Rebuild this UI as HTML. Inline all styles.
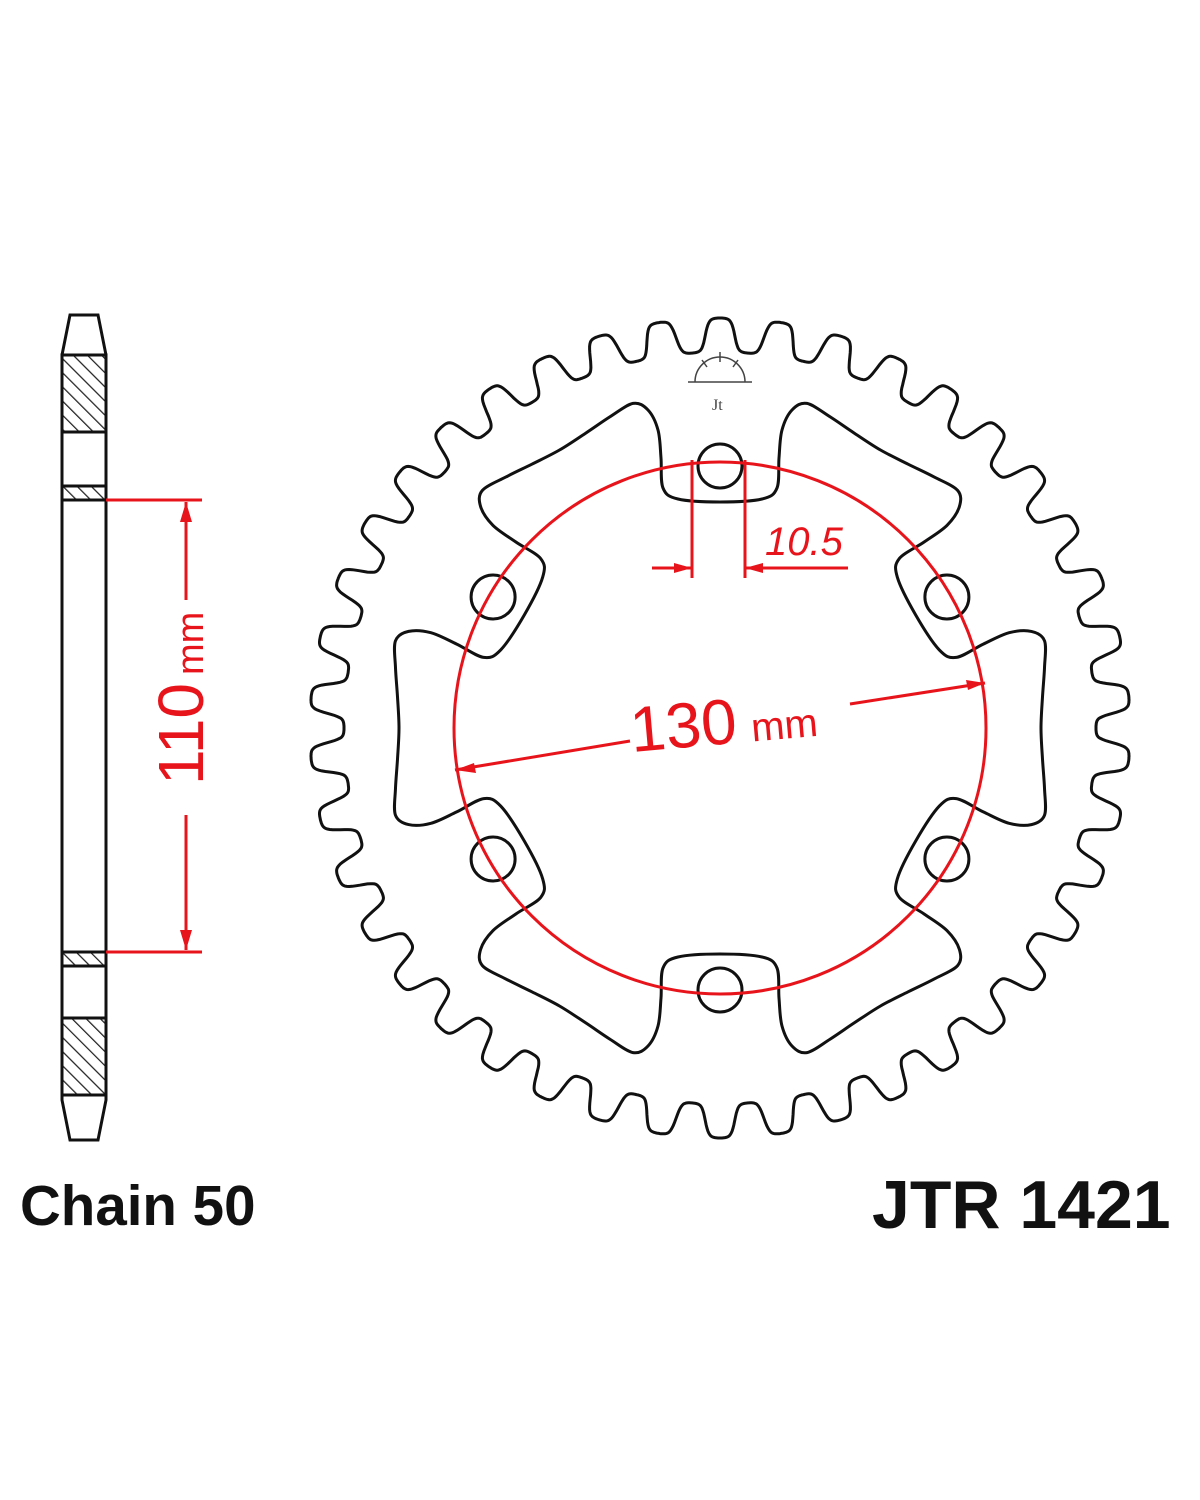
<!DOCTYPE html>
<html><head><meta charset="utf-8"><style>
html,body{margin:0;padding:0;background:#fff;width:1200px;height:1500px;overflow:hidden}
svg{display:block}
</style></head><body>
<svg id="s" width="1200" height="1500" viewBox="0 0 1200 1500" xmlns="http://www.w3.org/2000/svg">
<defs>
<pattern id="h" width="10" height="10" patternUnits="userSpaceOnUse" patternTransform="rotate(-45)">
<rect width="10" height="10" fill="#fff"/><line x1="0" y1="0" x2="0" y2="10" stroke="#222" stroke-width="2.5"/>
</pattern>
</defs>
<path d="M70 315 L98 315 L106 355 L106 1100 L98 1140 L70 1140 L62 1100 L62 355 Z" fill="#fff" stroke="#111" stroke-width="3"/>
<rect x="62" y="355" width="44" height="77" fill="url(#h)" stroke="#111" stroke-width="3"/>
<rect x="62" y="486" width="44" height="14" fill="url(#h)" stroke="#111" stroke-width="3"/>
<rect x="62" y="952" width="44" height="14" fill="url(#h)" stroke="#111" stroke-width="3"/>
<rect x="62" y="1018" width="44" height="77" fill="url(#h)" stroke="#111" stroke-width="3"/>
<g stroke="#e8141c" stroke-width="3" fill="none">
<line x1="106" y1="500" x2="202" y2="500"/>
<line x1="106" y1="952" x2="202" y2="952"/>
<line x1="186" y1="502" x2="186" y2="600"/>
<line x1="186" y1="815" x2="186" y2="950"/>
</g>
<path d="M186 502 L180 522 L192 522 Z M186 950 L180 930 L192 930 Z" fill="#e8141c"/>
<text transform="translate(203,785) rotate(-90)" font-family="Liberation Sans,sans-serif" font-size="64" fill="#e8141c">110<tspan font-size="38" dx="8">mm</tspan></text>

<g id="g"></g>

<g stroke="#e8141c" stroke-width="3" fill="none">
<circle cx="720" cy="728" r="266"/>
<line x1="692" y1="460" x2="692" y2="578"/>
<line x1="745" y1="460" x2="745" y2="578"/>
<line x1="652" y1="568" x2="692" y2="568"/>
<line x1="745" y1="568" x2="848" y2="568"/>
<line x1="455" y1="770" x2="630" y2="741"/>
<line x1="850" y1="704" x2="985" y2="683"/>
</g>
<path d="M692 568 L674 563 L674 573 Z M745 568 L763 563 L763 573 Z M455 770 L474 763 L476 773 Z M985 683 L966 680 L968 690 Z" fill="#e8141c"/>
<text x="765" y="555" font-family="Liberation Sans,sans-serif" font-style="italic" font-size="40" fill="#e8141c">10.5</text>
<text transform="translate(632,752) rotate(-5)" font-family="Liberation Sans,sans-serif" font-size="64" fill="#e8141c">130<tspan font-size="40" dx="14">mm</tspan></text>

<g stroke="#444" stroke-width="1.5" fill="none">
<path d="M695 382 A25 25 0 0 1 745 382"/>
<line x1="688" y1="382" x2="752" y2="382"/>
<line x1="720" y1="352" x2="720" y2="362"/><line x1="702" y1="360" x2="707" y2="367"/><line x1="738" y1="360" x2="733" y2="367"/>
<text x="712" y="410" font-size="16" fill="#444" stroke="none" font-family="Liberation Serif,serif">Jt</text>
</g>

<text x="20" y="1225" font-family="Liberation Sans,sans-serif" font-weight="bold" font-size="56.5" fill="#111">Chain 50</text>
<text x="872" y="1228" font-family="Liberation Sans,sans-serif" font-weight="bold" font-size="68" fill="#111">JTR 1421</text>
</svg>
<script>
(function(){
var cx=720,cy=728,N=42,d="";
for(var i=0;i<=2520;i++){var t=i/2520*2*Math.PI;
 var s=Math.tanh(2.2*Math.cos(N*t))/Math.tanh(2.2);
 var r=393+17*s; var x=cx+r*Math.sin(t), y=cy-r*Math.cos(t);
 d+=(i?"L":"M")+x.toFixed(1)+" "+y.toFixed(1);}
d+="Z";
var uv=[[226,0],[229,42],[240,57],[270,59],[298,62],[318,72]];
var half=[];
uv.forEach(function(p){half.push([Math.hypot(p[0],p[1]),Math.atan2(p[1],p[0])*180/Math.PI]);});
half.push([336,15],[330,19.5],[324,24.5],[321,30]);
var pts=[];
for(var k=0;k<6;k++){
 var a=k*60;
 for(var j=0;j<half.length;j++){pts.push([half[j][0],a+half[j][1]]);}
 for(var j=half.length-2;j>=1;j--){pts.push([half[j][0],a+60-half[j][1]]);}
}
var P=pts.map(function(p){var t=p[1]*Math.PI/180;return [cx+p[0]*Math.sin(t),cy-p[0]*Math.cos(t)];});
var n=P.length,d2="M"+P[0][0].toFixed(1)+" "+P[0][1].toFixed(1);
for(var i=0;i<n;i++){
 var p0=P[(i-1+n)%n],p1=P[i],p2=P[(i+1)%n],p3=P[(i+2)%n];
 var c1=[p1[0]+(p2[0]-p0[0])/6,p1[1]+(p2[1]-p0[1])/6];
 var c2=[p2[0]-(p3[0]-p1[0])/6,p2[1]-(p3[1]-p1[1])/6];
 d2+="C"+c1[0].toFixed(1)+" "+c1[1].toFixed(1)+" "+c2[0].toFixed(1)+" "+c2[1].toFixed(1)+" "+p2[0].toFixed(1)+" "+p2[1].toFixed(1);
}
d2+="Z";
var g=document.getElementById("g"),ns="http://www.w3.org/2000/svg";
function p(dd){var e=document.createElementNS(ns,"path");e.setAttribute("d",dd);e.setAttribute("fill","none");e.setAttribute("stroke","#111");e.setAttribute("stroke-width","3");g.appendChild(e);}
p(d);p(d2);
for(var k=0;k<6;k++){var t=k*Math.PI/3;var c=document.createElementNS(ns,"circle");
 c.setAttribute("cx",(cx+262*Math.sin(t)).toFixed(1));c.setAttribute("cy",(cy-262*Math.cos(t)).toFixed(1));
 c.setAttribute("r","22");c.setAttribute("fill","none");c.setAttribute("stroke","#111");c.setAttribute("stroke-width","3");g.appendChild(c);}
})();
</script>
</body></html>
